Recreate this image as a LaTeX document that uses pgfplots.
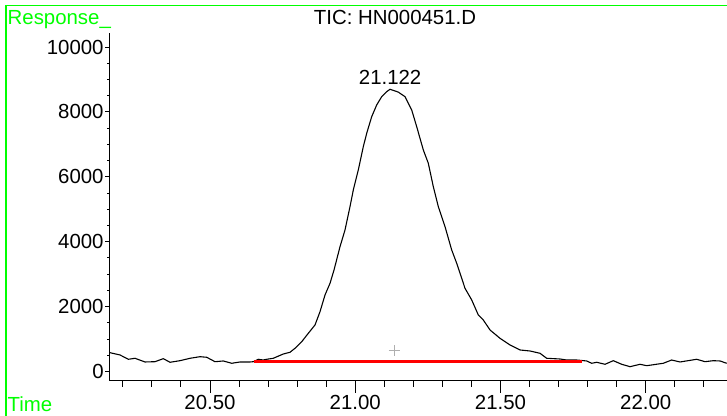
\documentclass[border=0pt]{standalone}
\usepackage{fontspec}
\setmainfont{Liberation Sans}
\usepackage{pgfplots}
\pgfplotsset{compat=1.18}
\definecolor{scrgreen}{RGB}{0,255,0}
\definecolor{plusgray}{RGB}{175,175,175}
\newcommand{\lbl}{\fontsize{10.2}{12}\selectfont}

\begin{document}
\begin{tikzpicture}
\useasboundingbox (0,0) rectangle (363.5pt,208pt);
% frame
\draw[scrgreen, line width=0.7pt] (2.9pt,0) -- (2.9pt,205.1pt) -- (363.5pt,205.1pt);
\node[scrgreen, anchor=base west, inner sep=0pt] at (3.65pt,195.5pt) {\lbl Response\_};
\node[scrgreen, anchor=base west, inner sep=0pt] at (3.65pt,2.15pt) {\lbl Time};
\node[anchor=base, inner sep=0pt] at (197.5pt,195.5pt) {\lbl TIC: HN000451.D};

% x axis and data
\begin{axis}[
  at={(54.5pt,17.5pt)}, anchor=south west,
  scale only axis, width=309pt, height=174pt,
  xmin=20.1523, xmax=22.2797, ymin=-293, ymax=10432,
  axis x line*=bottom, axis y line=none,
  axis line style={line width=0.5pt},
  tick align=outside,
  tick style={black, line width=0.5pt},
  major tick length=6pt, minor tick length=3pt,
  xtick={20.5,21,21.5,22},
  minor xtick={20.2,20.3,20.4,20.6,20.7,20.8,20.9,21.1,21.2,21.3,21.4,21.6,21.7,21.8,21.9,22.1,22.2},
  xticklabel style={font=\lbl, inner sep=1pt,
    /pgf/number format/fixed, /pgf/number format/fixed zerofill,
    /pgf/number format/precision=2},
  /pgf/number format/assume math mode=true,
  clip=false,
]
\addplot[black, line width=0.55pt] coordinates {
(20.1558,579) (20.1902,509) (20.2188,376) (20.2418,407) (20.2762,293)
(20.3107,302) (20.3392,395) (20.3623,284) (20.3967,333) (20.4312,407)
(20.4656,456) (20.4886,438) (20.5172,302) (20.5458,324) (20.5747,253)
(20.6033,293) (20.6377,293) (20.6491,302) (20.6663,376) (20.6835,354)
(20.6952,376) (20.7179,407) (20.7523,539) (20.7754,592) (20.7926,715)
(20.8157,918) (20.8384,1177) (20.8614,1433) (20.8787,1843) (20.8959,2358)
(20.9131,2718) (20.9269,3128) (20.9475,3846) (20.9647,4361) (20.9819,5079)
(20.9933,5594) (21.0105,6210) (21.0277,6928) (21.0394,7341) (21.0566,7853)
(21.0738,8214) (21.0910,8469) (21.1083,8624) (21.1196,8697) (21.1482,8610)
(21.1713,8469) (21.1943,8059) (21.2115,7545) (21.2343,6827) (21.2515,6417)
(21.2687,5695) (21.2859,5079) (21.3090,4463) (21.3320,3745) (21.3492,3335)
(21.3664,2872) (21.3778,2564) (21.4009,2204) (21.4236,1741) (21.4408,1587)
(21.4639,1279) (21.4983,1023) (21.5327,817) (21.5671,663) (21.6015,632)
(21.6360,561) (21.6590,407) (21.7048,385) (21.7279,354) (21.7623,354)
(21.7967,324) (21.8139,253) (21.8312,284) (21.8597,222) (21.8883,333)
(21.9172,222) (21.9458,148) (21.9802,222) (22.0033,179) (22.0604,253)
(22.0892,354) (22.1179,293) (22.1754,376) (22.2040,302) (22.2325,333)
(22.2556,324) (22.2787,253)
};
% baseline
\addplot[color=red, line width=1.2pt, mark=none] coordinates {(20.6515,305) (21.7795,305)};
% gray cross
\addplot[only marks, mark=+, mark size=2.75pt, plusgray, line width=0.5pt]
  coordinates {(21.134,641)};
% peak label
\addplot[draw=none, mark=none, nodes near coords={21.122},
  every node near coord/.append style={anchor=south, inner sep=0pt, yshift=2pt, font=\lbl, black}]
  coordinates {(21.12,8697)};
\end{axis}

% y axis
\begin{axis}[
  at={(54.5pt,17.5pt)}, anchor=south west,
  scale only axis, width=309pt, height=174pt,
  xmin=20.1523, xmax=22.2797, ymin=-293, ymax=10432,
  axis y line*=left, axis x line=none,
  axis line style={line width=0.5pt},
  tick align=outside,
  tick style={black, line width=0.5pt},
  major tick length=2pt, minor tick length=1pt,
  ytick={0,2000,4000,6000,8000,10000},
  minor y tick num=3,
  scaled y ticks=false,
  yticklabel style={font=\lbl, inner sep=0.5pt,
    /pgf/number format/fixed, /pgf/number format/1000 sep={}},
  /pgf/number format/assume math mode=true,
]
\addplot[draw=none] coordinates {(20.5,0)};
\end{axis}
\end{tikzpicture}
\end{document}
